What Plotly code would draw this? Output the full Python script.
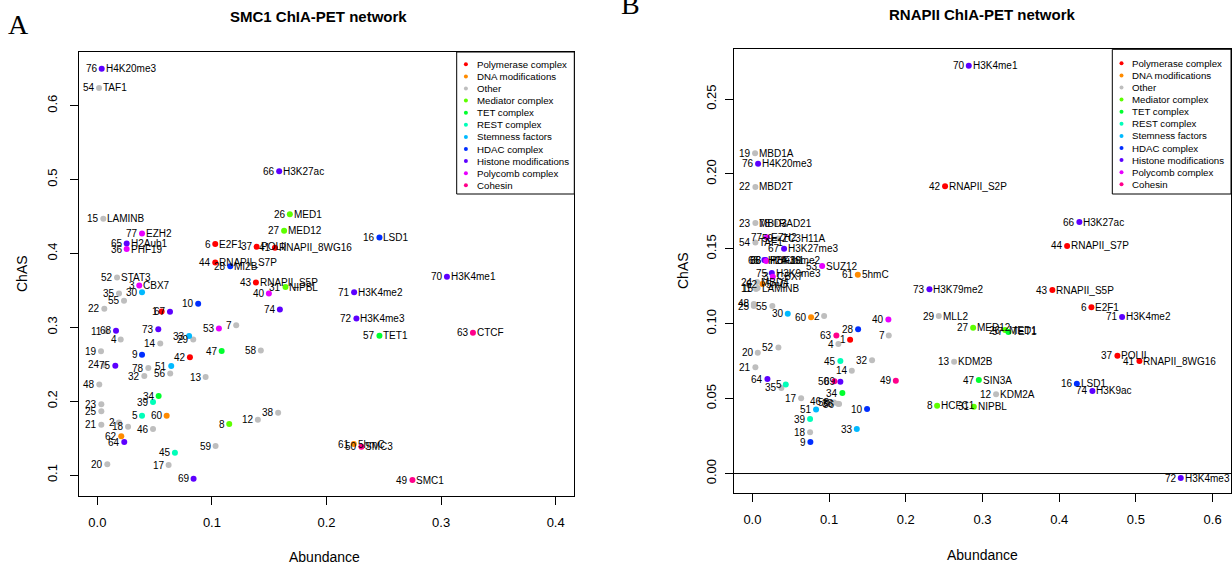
import plotly.graph_objects as go

W, H = 1232, 566
FONT = "Liberation Sans, Arial, Helvetica, sans-serif"

# ---- categories -------------------------------------------------------------
groups = ["Polymerase complex", "DNA modifications", "Other", "Mediator complex",
          "TET complex", "REST complex", "Stemness factors", "HDAC complex",
          "Histone modifications", "Polycomb complex", "Cohesin"]
group_colors = ["#FF0000", "#FF8B00", "#BEBEBE", "#5DFF00", "#00FF2E", "#00FFB9",
                "#00B9FF", "#002EFF", "#5D00FF", "#E800FF", "#FF008B"]

# group index of nodes 1..78
node_group = [0, 2, 9, 2, 5, 0, 2, 3, 7, 7,
              2, 2, 2, 2, 2, 7, 2, 2, 2, 2,
              2, 2, 2, 2, 2, 3, 3, 7, 2, 6,
              3, 2, 6, 4, 2, 9, 0, 2, 5, 9,
              0, 0, 0, 0, 5, 2, 4, 2, 10, 10,
              6, 2, 9, 2, 2, 2, 4, 2, 2, 1,
              1, 1, 10, 8, 8, 8, 8, 8, 8, 8,
              8, 8, 8, 8, 8, 8, 9, 2]

# names of nodes 1..78 ("" = no name)
node_names = ["", "", "CBX7", "", "", "E2F1", "", "HCFC1", "", "",
              "", "KDM2A", "KDM2B", "", "LAMINB", "LSD1", "", "", "MBD1A", "",
              "", "MBD2T", "MBD3", "MBD4", "", "MED1", "MED12", "MI2B", "MLL2", "",
              "NIPBL", "", "", "", "", "PHF19", "POLII", "", "", "",
              "RNAPII_8WG16", "RNAPII_S2P", "RNAPII_S5P", "RNAPII_S7P", "", "", "SIN3A", "", "SMC1", "SMC3",
              "", "STAT3", "SUZ12", "TAF1", "", "", "TET1", "", "ZC3H11A", "",
              "5hmC", "5mC", "CTCF", "", "H2Aub1", "H3K27ac", "H3K27me3", "H3K36me2", "", "H3K4me1",
              "H3K4me2", "H3K4me3", "H3K79me2", "H3K9ac", "H3K9me3", "H4K20me3", "EZH2", "RAD21"]

node_ids = list(range(1, 79))

# ---- panel A: SMC1 ChIA-PET network ----------------------------------------
smc1_abundance = [0.0561, 0.0189, 0.0366, 0.0204, 0.0390, 0.1029, 0.1212, 0.1151, 0.0390, 0.0880,
                  0.0076, 0.1401, 0.0945, 0.0549, 0.0052, 0.2462, 0.0622, 0.0268, 0.0032, 0.0087,
                  0.0035, 0.0061, 0.0035, 0.0058, 0.0035, 0.1680, 0.1630, 0.1160, 0.0837, 0.0390,
                  0.1642, 0.0410, 0.0801, 0.0535, 0.0189, 0.0256, 0.1390, 0.1578, 0.0486, 0.1497,
                  0.1550, 0.0808, 0.1384, 0.1029, 0.0677, 0.0486, 0.1085, 0.0017, 0.2750, 0.2305,
                  0.0645, 0.0172, 0.1061, 0.0015, 0.0233, 0.0636, 0.2462, 0.1427, 0.1032, 0.0605,
                  0.2238, 0.0209, 0.3278, 0.0235, 0.0256, 0.1587, 0.0634, 0.0163, 0.0840, 0.3051,
                  0.2241, 0.2261, 0.0532, 0.1593, 0.0157, 0.0038, 0.0390, 0.0445]
smc1_chas = [0.3215, 0.1710, 0.3567, 0.2836, 0.1802, 0.4126, 0.3026, 0.1690, 0.2628, 0.3318,
             0.2949, 0.1748, 0.2326, 0.2782, 0.4470, 0.4216, 0.1135, 0.1654, 0.2674, 0.1145,
             0.1680, 0.3250, 0.1957, 0.2490, 0.1862, 0.4532, 0.4306, 0.3828, 0.2836, 0.3476,
             0.3544, 0.2340, 0.2881, 0.2069, 0.3459, 0.4060, 0.4090, 0.1843, 0.1988, 0.3459,
             0.4076, 0.2593, 0.3607, 0.3878, 0.1302, 0.1622, 0.2678, 0.2227, 0.0932, 0.1383,
             0.2475, 0.3675, 0.2985, 0.6240, 0.3359, 0.2376, 0.2885, 0.2687, 0.1392, 0.1802,
             0.1420, 0.1524, 0.2926, 0.1447, 0.4135, 0.5114, 0.3210, 0.2953, 0.0950, 0.3683,
             0.3476, 0.3120, 0.2972, 0.3242, 0.2479, 0.6500, 0.4270, 0.2448]
smc1_named = [76, 54, 15, 77, 65, 36, 6, 37, 41, 44, 28, 52, 3, 66, 26, 27, 16, 43,
              31, 70, 71, 72, 57, 63, 61, 50, 49]

# ---- panel B: RNAPII ChIA-PET network --------------------------------------
rnapii_abundance = [0.1274, 0.0935, 0.0266, 0.1121, 0.0435, 0.4420, 0.1778, 0.2408, 0.0756, 0.1495,
                    0.0048, 0.3177, 0.2630, 0.1296, 0.0068, 0.4230, 0.0635, 0.0752, 0.0035, 0.0070,
                    0.0039, 0.0039, 0.0039, 0.0061, 0.0018, 0.3295, 0.2878, 0.1378, 0.2430, 0.0461,
                    0.2887, 0.1560, 0.1361, 0.1173, 0.0378, 0.0179, 0.4759, 0.1115, 0.0752, 0.1773,
                    0.5046, 0.2512, 0.3911, 0.4103, 0.1147, 0.0961, 0.2952, 0.0018, 0.1870, 0.1069,
                    0.0830, 0.0339, 0.0909, 0.0039, 0.0260, 0.1130, 0.3338, 0.1065, 0.0334, 0.0765,
                    0.1374, 0.0130, 0.1095, 0.0196, 0.0156, 0.4263, 0.0413, 0.0172, 0.1147, 0.2821,
                    0.4820, 0.5585, 0.2308, 0.4433, 0.0253, 0.0074, 0.0188, 0.0296]
rnapii_chas = [0.0893, 0.1051, 0.1314, 0.0864, 0.0595, 0.1110, 0.0922, 0.0453, 0.0210, 0.0430,
               0.1232, 0.0529, 0.0746, 0.0686, 0.1238, 0.0600, 0.0502, 0.0275, 0.2138, 0.0807,
               0.0709, 0.1913, 0.1672, 0.1278, 0.1118, 0.0958, 0.0973, 0.0963, 0.1051, 0.1067,
               0.0446, 0.0756, 0.0297, 0.0537, 0.0571, 0.1419, 0.0786, 0.0466, 0.0364, 0.1029,
               0.0751, 0.1917, 0.1225, 0.1519, 0.0751, 0.0484, 0.0624, 0.1132, 0.0620, 0.0616,
               0.0428, 0.0842, 0.1385, 0.1543, 0.1118, 0.0464, 0.0945, 0.0474, 0.1569, 0.1043,
               0.1327, 0.1265, 0.0922, 0.0631, 0.1425, 0.1679, 0.1501, 0.1425, 0.0613, 0.2722,
               0.1045, -0.0030, 0.1230, 0.0551, 0.1338, 0.2068, 0.1577, 0.1672]
rnapii_named = [70, 42, 66, 44, 61, 19, 76, 22, 23, 78, 77, 54, 59, 67, 65, 68, 36, 53,
                75, 3, 24, 62, 15, 73, 43, 6, 71, 29, 27, 26, 57, 37, 41, 13, 47, 16,
                74, 12, 8, 31, 72]

# ---- layout geometry (pixels) ----------------------------------------------
panels = [
    dict(ax="", box=(79, 52, 574, 496), xr=(-0.016, 0.416), yr=(0.0716, 0.6727),
         xt=[0, 0.1, 0.2, 0.3, 0.4], xl=["0.0", "0.1", "0.2", "0.3", "0.4"],
         yt=[0.1, 0.2, 0.3, 0.4, 0.5, 0.6], yl=["0.1", "0.2", "0.3", "0.4", "0.5", "0.6"],
         abund=smc1_abundance, chas=smc1_chas, named=smc1_named,
         title="SMC1 ChIA-PET network", title_xy=(318, 17), letter="A", letter_xy=(18, 25),
         ytitle_xy=(22, 274), xtitle_xy=(324, 557), legend_box=(456.7, 52, 574.3, 194),
         legend_y0=64.3, ystandoff=8),
    dict(ax="2", box=(734, 49.3, 1231, 493), xr=(-0.024, 0.624), yr=(-0.0130, 0.2832),
         xt=[0, 0.1, 0.2, 0.3, 0.4, 0.5, 0.6], xl=["0.0", "0.1", "0.2", "0.3", "0.4", "0.5", "0.6"],
         yt=[0, 0.05, 0.1, 0.15, 0.2, 0.25], yl=["0.00", "0.05", "0.10", "0.15", "0.20", "0.25"],
         abund=rnapii_abundance, chas=rnapii_chas, named=rnapii_named,
         title="RNAPII ChIA-PET network", title_xy=(982, 15), letter="B", letter_xy=(630, 4),
         ytitle_xy=(683, 271), xtitle_xy=(982, 555), legend_box=(1112.3, 49.3, 1231, 194),
         legend_y0=63.3, ystandoff=4),
]

LEG_STEP = 12.1


def px(x):
    return x / W


def py(y):
    return 1 - y / H


fig = go.Figure()
annotations = []
shapes = []
layout_axes = {}

for p in panels:
    xa, ya = "x" + p["ax"], "y" + p["ax"]
    x0, y0, x1, y1 = p["box"]

    # points, one trace per category
    for g, color in enumerate(group_colors):
        xs = [a for a, n in zip(p["abund"], node_ids) if node_group[n - 1] == g]
        ys = [c for c, n in zip(p["chas"], node_ids) if node_group[n - 1] == g]
        fig.add_trace(go.Scatter(x=xs, y=ys, mode="markers", xaxis=xa, yaxis=ya,
                                 marker=dict(color=color, size=6, line=dict(width=0)),
                                 showlegend=False, hoverinfo="skip", cliponaxis=False))

    # node ids left of the points, names right of the points
    for a, c, n in zip(p["abund"], p["chas"], node_ids):
        annotations.append(dict(x=a, y=c, xref=xa, yref=ya, text=str(n), showarrow=False,
                                xanchor="right", yanchor="middle", xshift=-2,
                                font=dict(family=FONT, size=10, color="black")))
        if n in p["named"]:
            annotations.append(dict(x=a, y=c, xref=xa, yref=ya, text=node_names[n - 1],
                                    showarrow=False, xanchor="left", yanchor="middle",
                                    xshift=2, font=dict(family=FONT, size=10, color="black")))

    axis_common = dict(showline=True, mirror=True, linecolor="black", linewidth=1,
                       ticks="outside", ticklen=8, tickwidth=1, tickcolor="black",
                       showgrid=False, zeroline=False,
                       tickfont=dict(family=FONT, size=13, color="black"))
    layout_axes["xaxis" + p["ax"]] = dict(axis_common, domain=[px(x0), px(x1)],
                                          range=list(p["xr"]), tickvals=p["xt"],
                                          ticktext=p["xl"], anchor=ya, ticklabelstandoff=6)
    layout_axes["yaxis" + p["ax"]] = dict(axis_common, domain=[py(y1), py(y0)],
                                          range=list(p["yr"]), tickvals=p["yt"],
                                          ticktext=p["yl"], anchor=xa, tickangle=-90,
                                          ticklabelstandoff=p["ystandoff"])

    # titles and axis titles
    annotations.append(dict(x=px(p["title_xy"][0]), y=py(p["title_xy"][1]), xref="paper",
                            yref="paper", text="<b>%s</b>" % p["title"], showarrow=False,
                            xanchor="center", yanchor="middle",
                            font=dict(family=FONT, size=15, color="black")))
    annotations.append(dict(x=px(p["letter_xy"][0]), y=py(p["letter_xy"][1]), xref="paper",
                            yref="paper", text=p["letter"], showarrow=False,
                            xanchor="center", yanchor="middle",
                            font=dict(family="Liberation Serif, Times New Roman, serif",
                                      size=28, color="black")))
    annotations.append(dict(x=px(p["ytitle_xy"][0]), y=py(p["ytitle_xy"][1]), xref="paper",
                            yref="paper", text="ChAS", showarrow=False, textangle=-90,
                            xanchor="center", yanchor="middle",
                            font=dict(family=FONT, size=14, color="black")))
    annotations.append(dict(x=px(p["xtitle_xy"][0]), y=py(p["xtitle_xy"][1]), xref="paper",
                            yref="paper", text="Abundance", showarrow=False,
                            xanchor="center", yanchor="middle",
                            font=dict(family=FONT, size=14, color="black")))

    # legend box
    lx0, ly0, lx1, ly1 = p["legend_box"]
    shapes.append(dict(type="rect", xref="paper", yref="paper", x0=px(lx0), x1=px(lx1),
                       y0=py(ly1), y1=py(ly0), line=dict(color="black", width=1),
                       fillcolor="white", layer="above"))
    for i, (name, color) in enumerate(zip(groups, group_colors)):
        yy = p["legend_y0"] + i * LEG_STEP
        shapes.append(dict(type="circle", xref="paper", yref="paper",
                           xsizemode="pixel", ysizemode="pixel",
                           xanchor=px(lx0 + 9.2), yanchor=py(yy),
                           x0=-2, x1=2, y0=-2, y1=2, fillcolor=color,
                           line=dict(width=0), layer="above"))
        annotations.append(dict(x=px(lx0 + 18), y=py(yy), xref="paper", yref="paper",
                                text=name, showarrow=False, xanchor="left", yanchor="middle",
                                font=dict(family=FONT, size=9.7, color="black")))

# horizontal reference line at ChAS = 0 in panel B
shapes.append(dict(type="line", xref="x2 domain", yref="y2", x0=0, x1=1, y0=0, y1=0,
                   line=dict(color="black", width=1)))

fig.update_layout(width=W, height=H, autosize=False,
                  margin=dict(l=0, r=0, t=0, b=0),
                  paper_bgcolor="white", plot_bgcolor="white",
                  font=dict(family=FONT, color="black"),
                  annotations=annotations, shapes=shapes, showlegend=False,
                  **layout_axes)

fig.write_html("out.html")
